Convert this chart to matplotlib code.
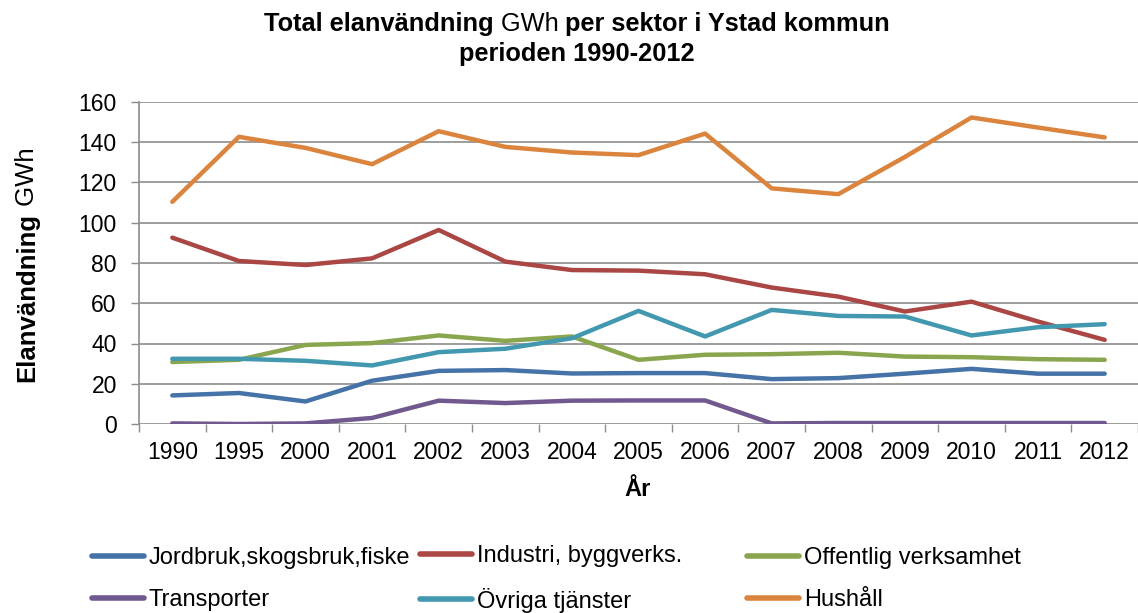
import numpy as np
import matplotlib
matplotlib.use("Agg")
import matplotlib.pyplot as plt

# data
years = ["1990", "1995", "2000", "2001", "2002", "2003", "2004", "2005",
         "2006", "2007", "2008", "2009", "2010", "2011", "2012"]
jordbruk = [14.2, 15.4, 11.2, 21.5, 26.4, 26.8, 25.1, 25.3, 25.3, 22.3, 22.8, 25.0, 27.4, 25.0, 25.0]
industri = [92.6, 81.0, 79.0, 82.3, 96.4, 80.7, 76.5, 76.2, 74.4, 67.8, 63.3, 55.9, 60.8, 50.9, 41.8]
offentlig = [30.8, 31.9, 39.3, 40.2, 44.0, 41.3, 43.5, 31.9, 34.4, 34.7, 35.4, 33.5, 33.2, 32.2, 31.9]
transporter = [0.3, 0.0, 0.3, 3.0, 11.6, 10.4, 11.6, 11.7, 11.7, 0.3, 0.5, 0.5, 0.5, 0.5, 0.5]
ovriga = [32.4, 32.4, 31.4, 29.1, 35.7, 37.4, 42.6, 56.2, 43.5, 56.7, 53.7, 53.4, 44.0, 48.1, 49.6]
hushall = [110.4, 142.7, 137.2, 129.1, 145.5, 137.7, 134.9, 133.6, 144.3, 117.1, 114.2, 132.7, 152.3, 147.3, 142.4]

series = [
    ("Jordbruk,skogsbruk,fiske", jordbruk, "#4572A7"),
    ("Industri, byggverks.", industri, "#AA4643"),
    ("Offentlig verksamhet", offentlig, "#89A54E"),
    ("Transporter", transporter, "#71588F"),
    ("Övriga tjänster", ovriga, "#4198AF"),
    ("Hushåll", hushall, "#DB843D"),
]

FONT = "Liberation Sans"
W, H = 1138, 613
plt.rcParams["font.family"] = [FONT, "DejaVu Sans"]

fig = plt.figure(figsize=(W / 100, H / 100), dpi=100)
ax = fig.add_axes([139 / W, 1 - 424 / H, 999 / W, (424 - 102) / H])

x = np.arange(len(years))
lines = {}
for name, vals, col in series:
    ln, = ax.plot(x, vals, color=col, lw=3.2, solid_capstyle="round",
                  solid_joinstyle="round", label=name)
    lines[name] = ln

grid_col = "#8c8c8c"
ax.set_xlim(-0.5, len(years) - 0.5)
ax.set_ylim(0, 160)
ax.set_yticks(np.arange(0, 161, 20))
ax.set_xticks(x)
ax.set_xticklabels(years)
ax.set_xticks(np.arange(-0.5, len(years), 1), minor=True)
ax.tick_params(axis="x", which="major", length=0, pad=12, labelsize=16.5)
ax.tick_params(axis="x", which="minor", length=6, color=grid_col, width=1)
ax.tick_params(axis="y", length=6, color=grid_col, width=1, pad=10, labelsize=16.5)
ax.yaxis.grid(True, color=grid_col, lw=1.2)
ax.set_axisbelow(True)
for s in ["top", "right", "bottom"]:
    ax.spines[s].set_visible(False)
ax.spines["left"].set_color(grid_col)
ax.spines["left"].set_linewidth(1.2)

renderer = fig.canvas.get_renderer()


def rich_text(cx, cy, parts, size, rotation=0):
    # place bold/regular pieces side by side, centred on (cx, cy) in pixels
    texts = []
    lengths = []
    for s, w in parts:
        t = fig.text(0, 0, s, fontsize=size, fontweight=w, rotation=rotation,
                     ha="left" if rotation == 0 else "center",
                     va="center" if rotation == 0 else "bottom",
                     transform=None)
        bb = t.get_window_extent(renderer)
        lengths.append(bb.width if rotation == 0 else bb.height)
        texts.append(t)
    total = sum(lengths)
    if rotation == 0:
        pos = cx - total / 2
        for t, L in zip(texts, lengths):
            t.set_position((pos, H - cy))
            pos += L
    else:
        pos = (H - cy) - total / 2
        for t, L in zip(texts, lengths):
            t.set_position((cx, pos))
            pos += L


rich_text(577, 24, [("Total elanvändning", "bold"), (" GWh", "normal"),
                    (" per sektor i Ystad kommun", "bold")], 18.3)
rich_text(577, 54, [("perioden 1990-2012", "bold")], 18.3)
rich_text(27, 265, [("Elanvändning", "bold"), (" GWh", "normal")], 18.5, rotation=90)
fig.text(638 / W, 1 - 490 / H, "År", fontsize=17, fontweight="bold",
         ha="center", va="center")

columns = [
    (92, ["Jordbruk,skogsbruk,fiske", "Transporter"]),
    (420, ["Industri, byggverks.", "Övriga tjänster"]),
    (747, ["Offentlig verksamhet", "Hushåll"]),
]
for xpix, names in columns:
    leg = fig.legend([lines[n] for n in names], names, loc="center left",
                     bbox_to_anchor=(xpix / W, 1 - 579 / H), frameon=False,
                     fontsize=17, handlelength=2.2, handletextpad=0.2,
                     borderpad=0, borderaxespad=0, labelspacing=0.85)
    for h in leg.get_lines():
        h.set_linewidth(4)

fig.savefig("out.png", dpi=100)
